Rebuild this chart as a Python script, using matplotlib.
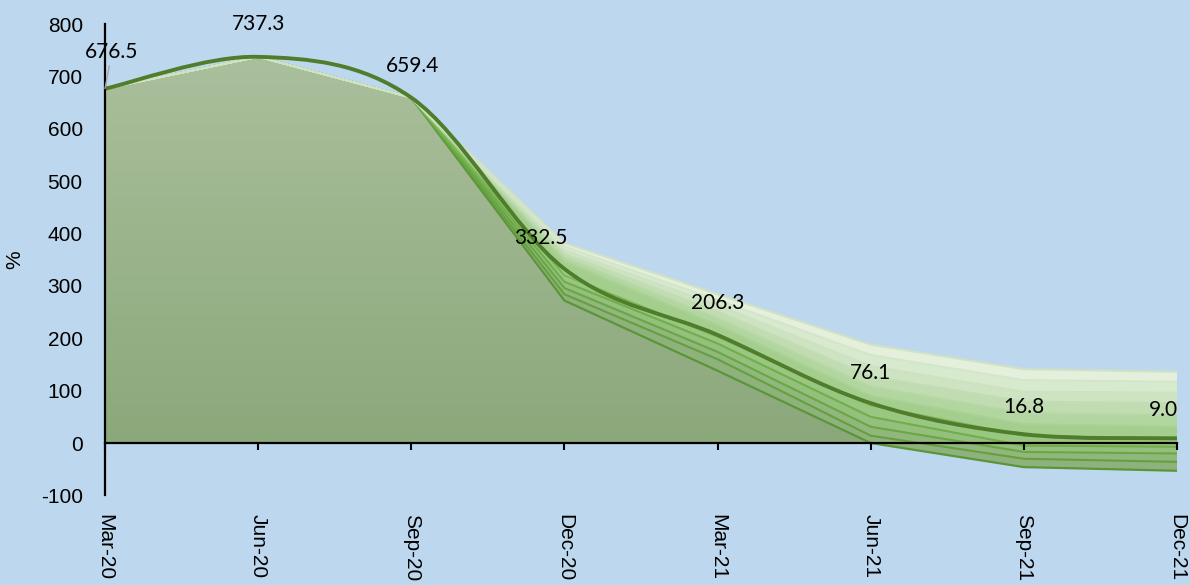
import numpy as np
import matplotlib
matplotlib.use("Agg")
import matplotlib.pyplot as plt
from matplotlib.colors import LinearSegmentedColormap
from matplotlib.patches import PathPatch
from matplotlib.path import Path

plt.rcParams["font.family"] = ["Liberation Sans", "DejaVu Sans"]
plt.rcParams["axes.unicode_minus"] = False
LABEL_FONT = ["Lato", "DejaVu Sans"]

# quarters on the x axis
dates = ["Mar-20", "Jun-20", "Sep-20", "Dec-20", "Mar-21", "Jun-21", "Sep-21", "Dec-21"]

# central projection (%)
central = [676.5, 737.3, 659.4, 332.5, 206.3, 76.1, 16.8, 9.0]

# fan boundaries, bottom to top (%)
p05 = [676.5, 737.3, 659.4, 272, 138, 0, -46, -53]
p15 = [676.5, 737.3, 659.4, 284, 160, 14, -30, -36]
p25 = [676.5, 737.3, 659.4, 296, 174, 31, -17, -20]
p35 = [676.5, 737.3, 659.4, 308, 190, 50, -5, -7]
p45 = [676.5, 737.3, 659.4, 320, 203, 72, 14, 9]
p55 = [676.5, 737.3, 659.4, 346, 225, 90, 36, 31]
p65 = [676.5, 737.3, 659.4, 354, 238, 108, 57, 53]
p75 = [676.5, 737.3, 659.4, 361, 251, 127, 79, 76]
p85 = [676.5, 737.3, 659.4, 368, 263, 147, 98, 96]
p90 = [676.5, 737.3, 659.4, 375, 273, 168, 120, 117]
p95 = [676.5, 737.3, 659.4, 382, 284, 188, 141, 136]

BG = "#bdd7ee"
band_fill = ["#8fb17c", "#91b77c", "#94bf7d", "#99c781", "#a4ce8d",
             "#b2d6a0", "#c0dcb0", "#cde3c1", "#d8eace", "#e4efdc"]
band_edge = ["#64a040", "#69a745", "#70ae4b", "#7db757", "#a9d193",
             "#b7d8a6", "#c3dcb5", "#cde2c2", "#d4e6ca", "#d0e2c4"]


def smooth_path(xs, ys):
    """Excel-style smoothed line as cubic Bezier segments (Catmull-Rom)."""
    pts = np.column_stack([xs, ys]).astype(float)
    ext = np.vstack([pts[0], pts, pts[-1]])
    verts = [pts[0]]
    codes = [Path.MOVETO]
    for i in range(len(pts) - 1):
        p0, p1, p2, p3 = ext[i], ext[i + 1], ext[i + 2], ext[i + 3]
        verts += [p1 + (p2 - p0) / 6, p2 - (p3 - p1) / 6, p2]
        codes += [Path.CURVE4] * 3
    return Path(verts, codes)


fig = plt.figure(figsize=(11.9, 5.85), dpi=100, facecolor=BG)
ax = fig.add_axes([105 / 1190, 1 - 495.4 / 585, (1177 - 105) / 1190, (495.4 - 24) / 585])
ax.set_facecolor(BG)

x = np.arange(len(dates))
edges = [p05, p15, p25, p35, p45, p55, p65, p75, p85, p90, p95]

# base area under the fan, with vertical gradient
base = ax.fill_between(x, 0, np.clip(p05, 0, None), facecolor="none", edgecolor="none")
clip = PathPatch(base.get_paths()[0], transform=ax.transData, facecolor="none", edgecolor="none")
ax.add_patch(clip)
grad_cmap = LinearSegmentedColormap.from_list("base", ["#8ba87b", "#adc19f"])
im = ax.imshow(np.linspace(0, 1, 256).reshape(-1, 1), extent=[0, 7, 0, 800], origin="lower",
               aspect="auto", cmap=grad_cmap, zorder=1)
im.set_clip_path(clip)

# fan bands
for i in range(len(edges) - 1):
    ax.fill_between(x, edges[i], edges[i + 1], facecolor=band_fill[i], edgecolor="none",
                    zorder=1.2)
ax.plot(x, p05, color="#5a9638", lw=1.6, zorder=1.5)
for i in range(1, len(edges)):
    ax.plot(x, edges[i], color=band_edge[i - 1], lw=1.5, zorder=1.5)

# central projection
ax.add_patch(PathPatch(smooth_path(x, central), facecolor="none", edgecolor="#4f7d2b",
                       lw=2.8, zorder=3, capstyle="round"))

# data labels
label_offsets = [(7, 37), (0, 33), (1, 32), (-24, 31), (0, 32), (0, 30), (0, 27), (-14, 28)]
for xi, val, (dx, dy) in zip(x, central, label_offsets):
    arrow = dict(arrowstyle="-", color="#a6a6a6", lw=1, shrinkA=1, shrinkB=0) if xi == 0 else None
    ax.annotate(f"{val:.1f}", xy=(xi, val), xytext=(dx, dy), textcoords="offset pixels",
                ha="center", va="center", fontsize=15, color="black", zorder=5,
                family=LABEL_FONT, arrowprops=arrow, annotation_clip=False)

ax.set_xlim(0, 7)
ax.set_ylim(-100, 800)
ax.set_yticks(np.arange(-100, 801, 100))
ax.tick_params(axis="y", length=0, pad=16, labelsize=15)
ax.set_xticks(x)
ax.set_xticklabels([])
ax.tick_params(axis="x", direction="out", length=5, width=1.5, color="black")

for lbl, xi in zip(dates, x):
    ax.text(xi, -0.04, lbl, transform=ax.get_xaxis_transform(), rotation=270,
            ha="center", va="top", fontsize=15, clip_on=False)

for side in ("top", "right"):
    ax.spines[side].set_visible(False)
ax.spines["bottom"].set_position(("data", 0))
for side in ("left", "bottom"):
    ax.spines[side].set_linewidth(1.6)
    ax.spines[side].set_zorder(4)

fig.text(15 / 1190, 1 - 260 / 585, "%", rotation=90, ha="center", va="center", fontsize=15)

fig.savefig("out.png", dpi=100, facecolor=BG)
